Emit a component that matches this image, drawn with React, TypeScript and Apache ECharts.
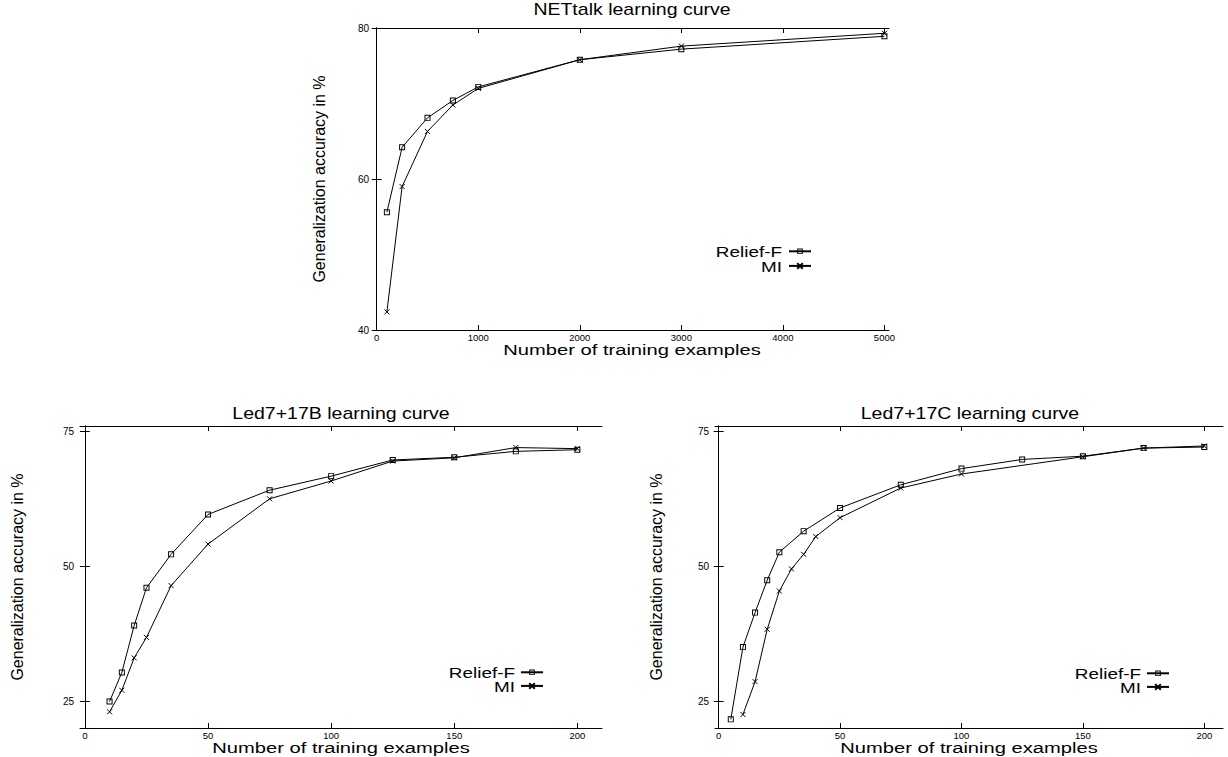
import React, { useEffect, useRef } from 'react';
import * as echarts from 'echarts';

// ---- data ----
const netX = [100, 250, 500, 750, 1000, 2000, 3000, 5000];
const netRelief = [55.6, 64.2, 68.1, 70.4, 72.2, 75.8, 77.2, 78.9];
const netMI = [42.4, 59.0, 66.3, 69.8, 72.0, 75.8, 77.6, 79.3];

const bX = [10, 15, 20, 25, 35, 50, 75, 100, 125, 150, 175, 200];
const bRelief = [24.9, 30.3, 39.0, 46.0, 52.2, 59.6, 64.1, 66.7, 69.7, 70.2, 71.3, 71.6];
const bMI = [23.0, 27.0, 33.0, 36.8, 46.4, 54.1, 62.5, 65.8, 69.5, 70.1, 72.0, 71.8];

const cReliefX = [5, 10, 15, 20, 25, 35, 50, 75, 100, 125, 150, 175, 200];
const cRelief = [21.6, 35.0, 41.4, 47.4, 52.6, 56.5, 60.8, 65.1, 68.1, 69.8, 70.4, 71.9, 72.1];
const cMIX = [10, 15, 20, 25, 30, 35, 40, 50, 75, 100, 150, 175, 200];
const cMI = [22.5, 28.6, 38.3, 45.4, 49.5, 52.2, 55.5, 59.0, 64.5, 67.1, 70.3, 71.9, 72.3];

const netXTicks = [0, 1000, 2000, 3000, 4000, 5000];
const netYTicks = [40, 60, 80];
const ledXTicks = [0, 50, 100, 150, 200];
const ledYTicks = [25, 50, 75];

const titles = ['NETtalk learning curve', 'Led7+17B learning curve', 'Led7+17C learning curve'];
const seriesNames = ['Relief-F', 'MI'];
const xName = 'Number of training examples';
const yName = 'Generalization accuracy in %';

const FONT = '"Liberation Sans", Arial, Helvetica, sans-serif';
const SQUARE = 'path://M0,0H10V10H0ZM1.6,1.6V8.4H8.4V1.6Z';
const CROSS = 'path://M0,0L10,10M0,10L10,0';

const pairs = (xs: number[], ys: number[]) => xs.map((x, i) => [x, ys[i]]);

function buildOption() {
  const panels = [
    {
      grid: { left: 375, top: 28, width: 514, height: 302 },
      xMin: -17, xMax: 5045, yMin: 40, yMax: 80,
      xTicks: netXTicks, yTicks: netYTicks,
      yNameGap: 48, title: { x: 632, y: 10 },
      legend: { iconRight: 812, textRight: 782, y0: 252, dy: 15 },
      relief: pairs(netX, netRelief), mi: pairs(netX, netMI),
    },
    {
      grid: { left: 80, top: 426, width: 522, height: 302 },
      xMin: -2, xMax: 210, yMin: 20, yMax: 76,
      xTicks: ledXTicks, yTicks: ledYTicks,
      yNameGap: 55, title: { x: 341, y: 414 },
      legend: { iconRight: 544, textRight: 515, y0: 673, dy: 14 },
      relief: pairs(bX, bRelief), mi: pairs(bX, bMI),
    },
    {
      grid: { left: 715, top: 426, width: 508, height: 302 },
      xMin: -1.5, xMax: 207.7, yMin: 20, yMax: 76,
      xTicks: ledXTicks, yTicks: ledYTicks,
      yNameGap: 51, title: { x: 970, y: 414 },
      legend: { iconRight: 1170, textRight: 1141, y0: 674, dy: 14 },
      relief: pairs(cReliefX, cRelief), mi: pairs(cMIX, cMI),
    },
  ];

  const grid: any[] = [];
  const xAxis: any[] = [];
  const yAxis: any[] = [];
  const series: any[] = [];
  const legend: any[] = [];
  const graphic: any[] = [];

  const axisLine = { show: true, lineStyle: { color: '#000', width: 1 } };
  const tick = (vals: number[]) => ({
    show: true, inside: true, length: 5, customValues: vals,
    lineStyle: { color: '#000', width: 1 },
  });
  const plain = (v: number) => String(v);

  panels.forEach((p, gi) => {
    grid.push({ ...p.grid, containLabel: false, outerBoundsMode: 'none' });
    xAxis.push({
      gridIndex: gi, type: 'value', position: 'bottom', min: p.xMin, max: p.xMax,
      axisLine, axisTick: tick(p.xTicks), splitLine: { show: false },
      axisLabel: { customValues: p.xTicks, formatter: plain, color: '#000', fontSize: 9.5, fontFamily: FONT, margin: 2 },
    });
    xAxis.push({
      gridIndex: gi, type: 'value', position: 'top', min: p.xMin, max: p.xMax,
      axisLine, axisTick: tick(p.xTicks), splitLine: { show: false },
      axisLabel: { show: false },
    });
    yAxis.push({
      gridIndex: gi, type: 'value', position: 'left', min: p.yMin, max: p.yMax,
      axisLine, axisTick: tick(p.yTicks), splitLine: { show: false },
      axisLabel: { customValues: p.yTicks, formatter: plain, color: '#000', fontSize: 10, fontFamily: FONT, margin: 6 },
      name: yName, nameLocation: 'middle', nameGap: p.yNameGap, nameRotate: 90, nameMoveOverlap: false,
      nameTextStyle: { color: '#000', fontSize: 16, fontFamily: FONT },
    });
    yAxis.push({
      gridIndex: gi, type: 'value', position: 'right', min: p.yMin, max: p.yMax,
      axisLine, axisTick: tick(p.yTicks), splitLine: { show: false },
      axisLabel: { show: false },
    });

    series.push({
      name: seriesNames[0], type: 'line', xAxisIndex: gi * 2, yAxisIndex: gi * 2,
      data: p.relief, symbol: SQUARE, symbolSize: 6, showAllSymbol: true,
      lineStyle: { color: '#000', width: 1 },
      itemStyle: { color: '#000' },
      emphasis: { disabled: true },
    });
    series.push({
      name: seriesNames[1], type: 'line', xAxisIndex: gi * 2, yAxisIndex: gi * 2,
      data: p.mi, symbol: CROSS, symbolSize: 5, showAllSymbol: true,
      lineStyle: { color: '#000', width: 1 },
      itemStyle: { color: '#000', borderColor: '#000', borderWidth: 1 },
      emphasis: { disabled: true },
    });

    // legend keys (line + symbol); labels drawn as horizontally stretched text to their left
    legend.push({
      orient: 'vertical', right: 1228 - p.legend.iconRight, top: p.legend.y0 - 3.5, align: 'right',
      itemGap: p.legend.dy - 7, itemWidth: 22, itemHeight: 7, padding: 0,
      data: seriesNames, selectedMode: false,
      formatter: () => '',
      textStyle: { fontSize: 7, lineHeight: 7 },
    });
    seriesNames.forEach((n, k) => {
      graphic.push({
        type: 'text', x: p.legend.textRight, y: p.legend.y0 + k * p.legend.dy, scaleX: 1.35,
        style: {
          text: n, x: 0, y: 0, align: 'right', verticalAlign: 'middle',
          fill: '#000', fontSize: 14, fontFamily: FONT,
        },
      });
    });

    // chart title
    graphic.push({
      type: 'text', x: p.title.x, y: p.title.y, scaleX: 1.22,
      style: {
        text: titles[gi], x: 0, y: 0, align: 'center', verticalAlign: 'middle',
        fill: '#000', fontSize: 16, fontWeight: 'normal', fontFamily: FONT,
      },
    });
    // x-axis title (horizontally stretched like the reference)
    graphic.push({
      type: 'text', x: p.grid.left + p.grid.width / 2, y: p.grid.top + p.grid.height + 19.5, scaleX: 1.3,
      style: {
        text: xName, x: 0, y: 0, align: 'center', verticalAlign: 'middle',
        fill: '#000', fontSize: 15.5, fontFamily: FONT,
      },
    });
  });

  return {
    animation: false,
    backgroundColor: '#fff',
    grid, xAxis, yAxis, series, legend, graphic,
  };
}

export default function App() {
  const ref = useRef<HTMLDivElement>(null);
  useEffect(() => {
    const chart = echarts.init(ref.current!, null, { renderer: 'svg' });
    chart.setOption(buildOption() as any);
    return () => chart.dispose();
  }, []);
  return (
    <div
      ref={ref}
      style={{ position: 'absolute', left: 0, top: 0, width: 1228, height: 757, background: '#fff' }}
    />
  );
}
